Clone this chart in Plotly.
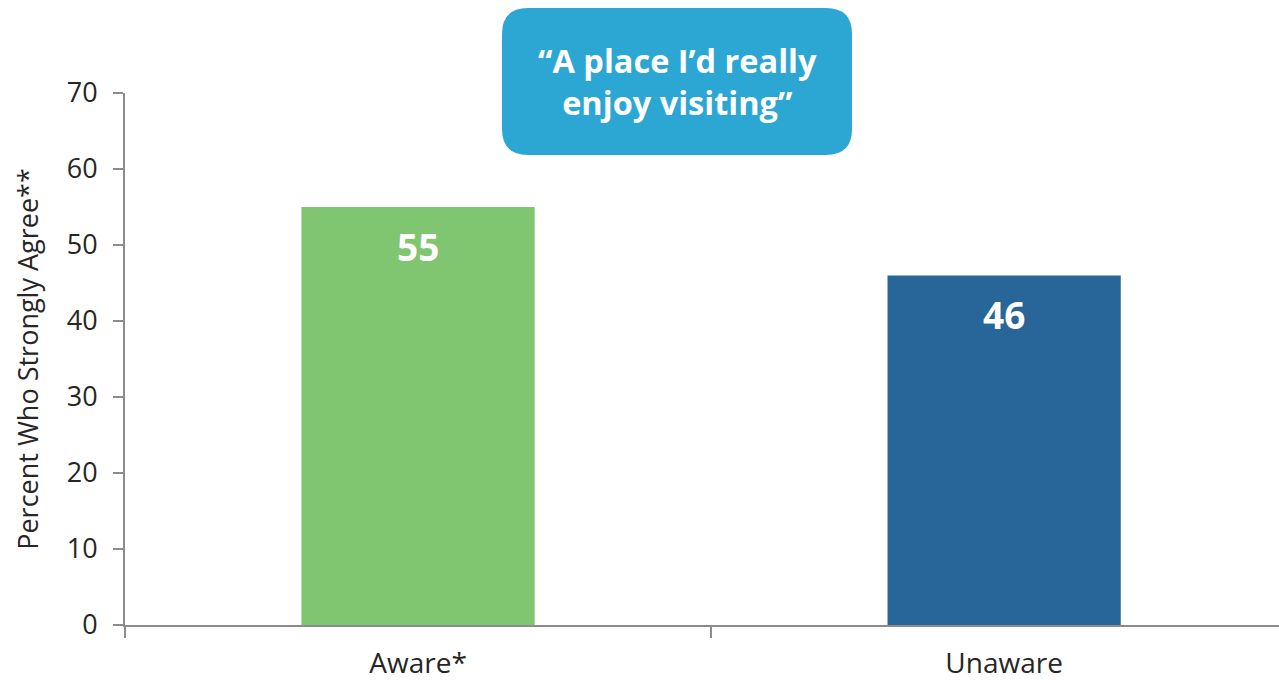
import plotly.graph_objects as go

categories = ["Aware*", "Unaware"]
values = [55, 46]
bar_colors = ["#80C56F", "#286699"]
y_ticks = [0, 10, 20, 30, 40, 50, 60, 70]
title_lines = ["\u201cA place I\u2019d really", "enjoy visiting\u201d"]
y_title = "Percent Who Strongly Agree**"

W, H = 1279, 685
M_L, M_R, M_T, M_B = 125, 0, 93, 60
PW, PH = W - M_L - M_R, H - M_T - M_B

fig = go.Figure()
fig.add_trace(go.Bar(
    x=categories, y=values,
    marker=dict(color=bar_colors, line=dict(width=0)),
    width=0.398, hoverinfo="skip",
))

# value labels near the top of each bar
for c, v in zip(categories, values):
    fig.add_annotation(
        x=c, y=v, text=f"<b>{v}</b>", showarrow=False,
        yanchor="top", yshift=-12,
        font=dict(family="Open Sans", size=37, color="white"),
    )

# rounded callout box holding the quote
def px_to_paper(x, y):
    return (x - M_L) / PW, (H - M_B - y) / PH

x0, y0, x1, y1, r = 502, 8, 852, 155, 26
def P(x, y):
    px, py = px_to_paper(x, y)
    return f"{px:.5f},{py:.5f}"
def Q(cx, cy, ex, ey):
    return f"Q{P(cx, cy)} {P(ex, ey)}"
path = (f"M{P(x0 + r, y0)} L{P(x1 - r, y0)} {Q(x1, y0, x1, y0 + r)} "
        f"L{P(x1, y1 - r)} {Q(x1, y1, x1 - r, y1)} "
        f"L{P(x0 + r, y1)} {Q(x0, y1, x0, y1 - r)} "
        f"L{P(x0, y0 + r)} {Q(x0, y0, x0 + r, y0)} Z")
fig.add_shape(type="path", path=path, xref="paper", yref="paper",
              fillcolor="#2CA7D4", line=dict(width=0), layer="above")
cx, cy = px_to_paper((x0 + x1) / 2, (y0 + y1) / 2)
fig.add_annotation(
    x=cx, y=cy, xref="paper", yref="paper", showarrow=False,
    text="<b>" + "<br>".join(title_lines) + "</b>",
    font=dict(family="Open Sans", size=32.5, color="white"),
    align="center", xanchor="center", yanchor="middle",
)

axis_grey = "#8C8C8C"
fig.update_layout(
    width=W, height=H,
    margin=dict(l=M_L, r=M_R, t=M_T, b=M_B, pad=0, autoexpand=False),
    plot_bgcolor="white", paper_bgcolor="white",
    showlegend=False,
    font=dict(family="Open Sans", color="#262626"),
    xaxis=dict(
        type="category", range=[-0.5, 1.469], automargin=False,
        showline=True, linecolor=axis_grey, linewidth=2,
        ticks="outside", tickson="boundaries", ticklen=11,
        tickcolor=axis_grey, tickwidth=2,
        tickfont=dict(size=28, color="#262626"),
        ticklabelstandoff=12,
        showgrid=False, zeroline=False,
    ),
    yaxis=dict(
        range=[0, 70], tickvals=y_ticks, automargin=False,
        showline=True, linecolor=axis_grey, linewidth=2,
        ticks="outside", ticklen=10, tickcolor=axis_grey, tickwidth=2,
        tickfont=dict(size=27, color="#262626"),
        ticklabelstandoff=10,
        showgrid=False, zeroline=False,
        title=dict(text=y_title, font=dict(size=27, color="#262626"), standoff=20),
    ),
)

fig.write_html("out.html")
